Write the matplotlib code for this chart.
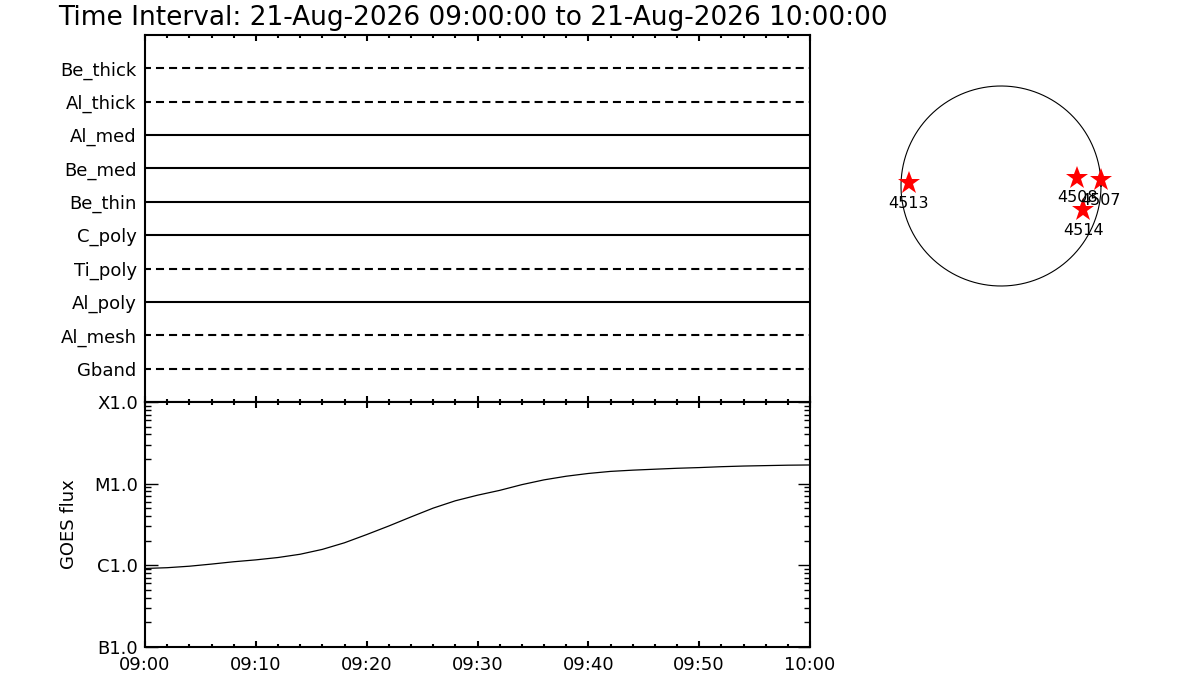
import matplotlib
matplotlib.use("Agg")
import matplotlib.pyplot as plt
from matplotlib.ticker import FixedLocator, NullFormatter, LogLocator
import numpy as np

plt.rcParams['font.family'] = ['DejaVu Sans']
plt.rcParams['lines.scale_dashes'] = False

title = "Time Interval: 21-Aug-2026 09:00:00 to 21-Aug-2026 10:00:00"

# Top panel: instruments (top to bottom) and line style
instruments = ["Be_thick", "Al_thick", "Al_med", "Be_med", "Be_thin",
               "C_poly", "Ti_poly", "Al_poly", "Al_mesh", "Gband"]
dashed = [True, True, False, False, False, False, True, False, True, True]
inst_start = [0.0] * 10   # minutes after 09:00
inst_end = [60.0] * 10

# GOES flux (W/m^2) every 2 minutes from 09:00
goes_t = [0, 2, 4, 6, 8, 10, 12, 14, 16, 18, 20, 22, 24, 26, 28, 30,
          32, 34, 36, 38, 40, 42, 44, 46, 48, 50, 52, 54, 56, 58, 60]
goes_f = [9.1e-7, 9.3e-7, 9.7e-7, 1.03e-6, 1.10e-6, 1.16e-6, 1.24e-6, 1.36e-6,
          1.56e-6, 1.88e-6, 2.37e-6, 3.02e-6, 3.90e-6, 5.00e-6, 6.15e-6, 7.20e-6,
          8.25e-6, 9.70e-6, 1.11e-5, 1.23e-5, 1.33e-5, 1.41e-5, 1.46e-5, 1.50e-5,
          1.54e-5, 1.57e-5, 1.61e-5, 1.64e-5, 1.66e-5, 1.68e-5, 1.69e-5]

time_ticks = [0, 10, 20, 30, 40, 50, 60]
time_labels = ["09:00", "09:10", "09:20", "09:30", "09:40", "09:50", "10:00"]
flux_ticks = [1e-7, 1e-6, 1e-5, 1e-4]
flux_labels = ["B1.0", "C1.0", "M1.0", "X1.0"]

# Active regions (arcsec, solar disk radius ~960")
ar_names = ["4513", "4508", "4507", "4514"]
ar_x = [-885, 734, 958, 788]
ar_y = [29, 81, 55, -233]
r_sun = 960.0

W, H = 1200, 700
fig = plt.figure(figsize=(12, 7), dpi=100)

def box(x0, y0, x1, y1):
    return [x0 / W, 1 - y1 / H, (x1 - x0) / W, (y1 - y0) / H]

ax_top = fig.add_axes(box(145, 35, 810, 402))
ax_bot = fig.add_axes(box(145, 402, 810, 646.7))
ax_sun = fig.add_axes(box(891, 76, 1111, 296))

lw_sp = 1.5
fs = 13
# ---- top panel
n = len(instruments)
for i, name in enumerate(instruments):
    yv = n - i
    ls = (1.5, (5.8, 3.6)) if dashed[i] else '-'
    ax_top.plot([inst_start[i], inst_end[i]], [yv, yv], color='black',
                lw=1.5, linestyle=ls, solid_capstyle='butt', dash_capstyle='butt')
ax_top.set_xlim(0, 60)
ax_top.set_ylim(0, n + 1)
ax_top.set_yticks(range(n, 0, -1))
ax_top.set_yticklabels(instruments, fontsize=fs)
ax_top.tick_params(axis='y', length=0, pad=6)
ax_top.xaxis.set_major_locator(FixedLocator(time_ticks))
ax_top.xaxis.set_minor_locator(FixedLocator(np.arange(0, 61, 2)))
ax_top.tick_params(axis='x', which='both', direction='in', top=True, bottom=True,
                   labelbottom=False, width=1.5)
ax_top.tick_params(axis='x', which='major', length=4.5)
ax_top.tick_params(axis='x', which='minor', length=2.5)
for s in ax_top.spines.values():
    s.set_linewidth(lw_sp)

# ---- bottom panel
ax_bot.plot(goes_t, goes_f, color='black', lw=0.9)
ax_bot.set_yscale('log')
ax_bot.set_xlim(0, 60)
ax_bot.set_ylim(1e-7, 1e-4)
ax_bot.set_yticks(flux_ticks)
ax_bot.set_yticklabels(flux_labels, fontsize=fs)
ax_bot.yaxis.set_minor_locator(LogLocator(base=10, subs=np.arange(2, 10)))
ax_bot.yaxis.set_minor_formatter(NullFormatter())
ax_bot.set_xticks(time_ticks)
ax_bot.set_xticklabels(time_labels, fontsize=fs)
ax_bot.xaxis.set_minor_locator(FixedLocator(np.arange(0, 61, 2)))
ax_bot.tick_params(axis='x', which='both', direction='in', top=True, bottom=True, width=1.5, pad=7)
ax_bot.tick_params(axis='x', which='major', length=4.5)
ax_bot.tick_params(axis='x', which='minor', length=2.5)
ax_bot.tick_params(axis='y', which='both', direction='in', left=True, right=True, width=1.0, pad=5)
ax_bot.tick_params(axis='y', which='major', length=9)
ax_bot.tick_params(axis='y', which='minor', length=4.5)
ax_bot.set_ylabel("GOES flux", fontsize=fs, labelpad=12)
for s in ax_bot.spines.values():
    s.set_linewidth(lw_sp)

# ---- solar disk
th = np.linspace(0, 2 * np.pi, 400)
ax_sun.plot(r_sun * np.cos(th), r_sun * np.sin(th), color='black', lw=0.8)
ax_sun.plot(ar_x, ar_y, linestyle='none', marker='*', color='red',
            markersize=17, markeredgewidth=0)
for nm, x, y in zip(ar_names, ar_x, ar_y):
    ax_sun.annotate(nm, (x, y), xytext=(0, -14.5), textcoords='offset points',
                    ha='center', va='center', fontsize=11.5)
lim = 110 * r_sun / 100
ax_sun.set_xlim(-lim, lim)
ax_sun.set_ylim(-lim, lim)
ax_sun.set_aspect('equal')
ax_sun.axis('off')

fig.text(58 / W, 1 - 5 / H, title, fontsize=19, ha='left', va='top')

fig.savefig("out.png", dpi=100)
